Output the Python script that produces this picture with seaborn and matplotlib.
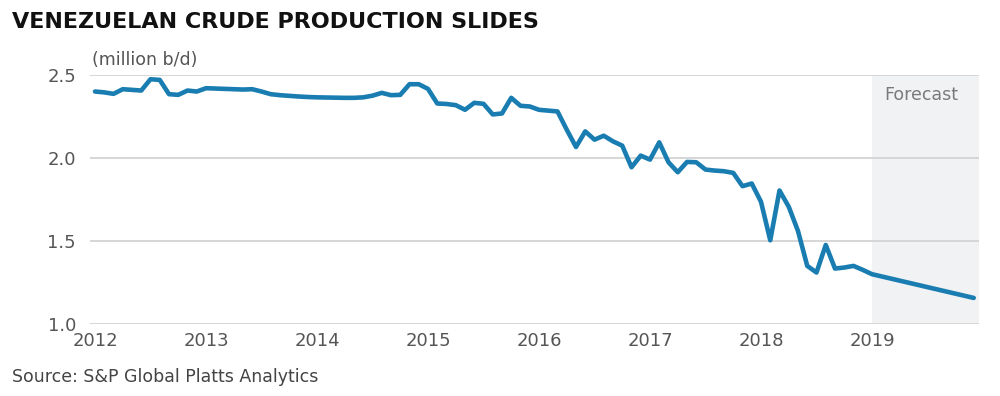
import numpy as np
import pandas as pd
import matplotlib
matplotlib.use("Agg")
import matplotlib.pyplot as plt
import seaborn as sns

# monthly production, million b/d, Jan 2012 - Dec 2019
years = [2012, 2013, 2014, 2015, 2016, 2017, 2018, 2019]
prod_2012 = [2.40, 2.395, 2.386, 2.414, 2.41, 2.406, 2.474, 2.47, 2.384, 2.38, 2.406, 2.40]
prod_2013 = [2.42, 2.418, 2.416, 2.414, 2.412, 2.414, 2.40, 2.384, 2.378, 2.374, 2.37, 2.367]
prod_2014 = [2.365, 2.364, 2.363, 2.362, 2.362, 2.365, 2.375, 2.392, 2.378, 2.38, 2.444, 2.444]
prod_2015 = [2.416, 2.328, 2.325, 2.318, 2.29, 2.332, 2.326, 2.262, 2.268, 2.362, 2.314, 2.31]
prod_2016 = [2.29, 2.285, 2.28, 2.17, 2.066, 2.16, 2.11, 2.134, 2.10, 2.074, 1.944, 2.014]
prod_2017 = [1.99, 2.094, 1.974, 1.914, 1.976, 1.974, 1.93, 1.924, 1.92, 1.91, 1.83, 1.846]
prod_2018 = [1.736, 1.504, 1.804, 1.706, 1.56, 1.35, 1.31, 1.476, 1.334, 1.34, 1.35, 1.326]
prod_2019 = [1.30, 1.287, 1.274, 1.261, 1.248, 1.235, 1.222, 1.209, 1.196, 1.183, 1.170, 1.157]
forecast_start = 2019
y_ticks = [1.0, 1.5, 2.0, 2.5]
y_labels = ["1.0", "1.5", "2.0", "2.5"]

all_prod = prod_2012 + prod_2013 + prod_2014 + prod_2015 + prod_2016 + prod_2017 + prod_2018 + prod_2019
t = [y + m / 12 for y in years for m in range(12)]
df = pd.DataFrame({"t": t, "prod": all_prod})

sns.set_style("white")
plt.rcParams["font.family"] = ["DejaVu Sans"]

fig = plt.figure(figsize=(10, 3.96), dpi=100)
ax = fig.add_axes([0.09, 0.1818, 0.889, 0.629])

x0 = 2012 - 5 / 111
x1 = 2012 + 884 / 111
ax.axvspan(forecast_start, x1, color="#f1f2f4", zorder=0, lw=0)
for yt in y_ticks:
    ax.axhline(yt, color="#d6d6d6", lw=1.4, zorder=1)

sns.lineplot(data=df, x="t", y="prod", ax=ax, color="#1a7db1", lw=3.3, zorder=3)

ax.set_xlim(x0, x1)
ax.set_ylim(1.0, 2.5)
ax.set_xticks(years)
ax.set_xticklabels([str(y) for y in years])
ax.set_yticks(y_ticks)
ax.set_yticklabels(y_labels)
ax.tick_params(axis="both", length=0, labelsize=13, colors="#555555")
ax.tick_params(axis="x", pad=6)
ax.tick_params(axis="y", pad=10)
ax.set_xlabel("")
ax.set_ylabel("")
for s in ax.spines.values():
    s.set_visible(False)

ax.text(forecast_start + 12 / 111, 2.38, "Forecast", fontsize=12.5, color="#7a7a7a", va="center", ha="left")
ax.text(0.002, 1.06, "(million b/d)", transform=ax.transAxes, fontsize=12.5, color="#555555", va="center", ha="left")

fig.text(0.012, 0.944, "VENEZUELAN CRUDE PRODUCTION SLIDES", fontsize=16, fontweight="bold",
         color="#111111", va="center", ha="left")
fig.text(0.012, 0.048, "Source: S&P Global Platts Analytics", fontsize=12.5, color="#444444", va="center", ha="left")

fig.savefig("out.png", dpi=100)
